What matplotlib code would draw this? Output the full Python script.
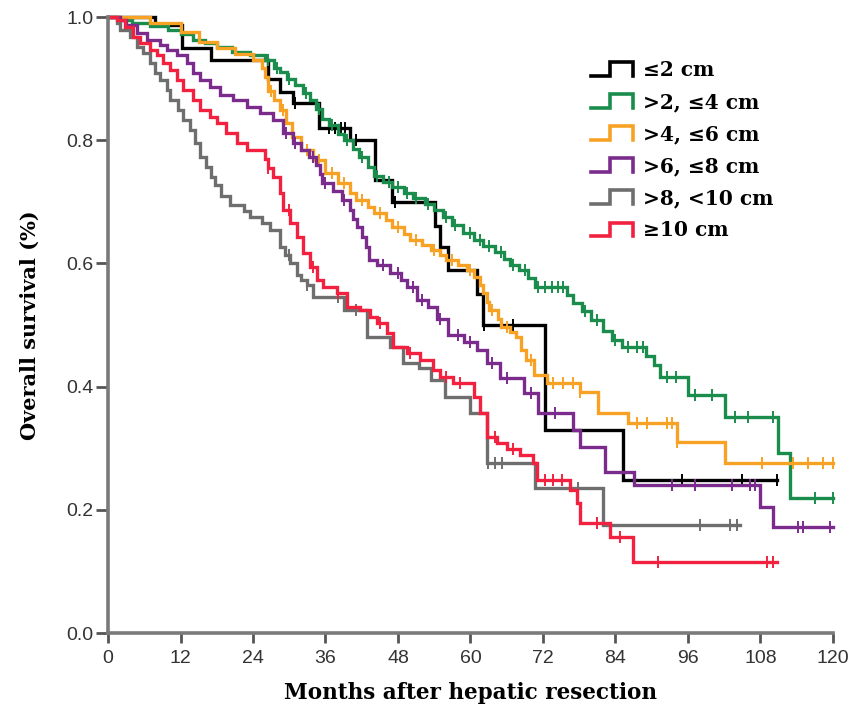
import numpy as np
import matplotlib
matplotlib.use("Agg")
import matplotlib.pyplot as plt
from matplotlib.lines import Line2D
from matplotlib.legend_handler import HandlerBase

# ---------------- data ----------------
labels = ["≤2 cm", ">2, ≤4 cm", ">4, ≤6 cm", ">6, ≤8 cm", ">8, <10 cm", "≥10 cm"]
colors = ["#000000", "#1a8c4c", "#f7a224", "#7a2b8c", "#6e6e6e", "#f2213f"]

black_t = [7.8, 12.2, 17, 26.5, 28.5, 30.6, 35, 40, 44.2, 47, 54.2, 55.0, 56.2, 61, 62, 72.4, 85.3]
black_s = [0.987, 0.95, 0.93, 0.90, 0.878, 0.86, 0.82, 0.80, 0.735, 0.70, 0.66, 0.627, 0.59, 0.55, 0.50, 0.33, 0.248]
black_end = 110.8
black_c = [31, 36.5, 37.5, 38.5, 39.3, 41, 47.5, 55, 62.3, 67, 95, 105, 110.8]

green_t = [2, 4, 7, 10, 12, 14, 16, 18, 20.5, 23.5, 26, 27.5, 28.5, 29.6, 31, 32.3, 33.5, 34.5, 35.5,
           36.5, 38, 39, 40.5, 41.5, 43, 44, 45.5, 47, 49, 50.5, 52.5, 54, 55.5, 57, 58.8, 60.5, 62,
           64, 65.5, 66.5, 68, 69.5, 70.7, 76, 77, 78.5, 80, 82, 83.5, 85, 89, 90.3, 91.4, 96, 102.2,
           110.9, 112.9]
green_s = [0.995, 0.99, 0.985, 0.979, 0.972, 0.963, 0.957, 0.951, 0.943, 0.938, 0.93, 0.918, 0.91,
           0.90, 0.89, 0.877, 0.865, 0.85, 0.835, 0.825, 0.81, 0.80, 0.785, 0.773, 0.757, 0.742,
           0.732, 0.724, 0.715, 0.706, 0.697, 0.686, 0.675, 0.662, 0.649, 0.638, 0.628, 0.619, 0.607,
           0.597, 0.589, 0.577, 0.562, 0.548, 0.536, 0.522, 0.508, 0.49, 0.476, 0.464, 0.45, 0.435,
           0.416, 0.386, 0.351, 0.292, 0.219]
green_end = 120
green_c = [26.5, 28, 30, 32.8, 35, 37, 39.5, 42, 44.5, 46.5, 48, 49.5, 51, 53, 56, 57.5, 60, 61.5, 63,
           65, 67, 69, 71.2, 72.4, 73.5, 74.5, 75.3, 79, 81, 84, 86, 87.5, 88.5, 92.5, 94, 97.2, 100,
           103.8, 106, 110, 117, 120]

orange_t = [7, 12, 15, 18, 21, 24, 25.5, 26, 26.5, 27.5, 28.5, 29.5, 30.5, 32, 34, 36, 38, 40, 41, 43,
            44, 46, 47, 49, 50, 52, 53.5, 55, 56, 58, 59.5, 60.5, 61.5, 62, 62.7, 63, 64.5, 65, 66.5,
            67.5, 68.3, 69.2, 70.5, 72.7, 78.1, 81.1, 86, 94.2, 102.2]
orange_s = [0.99, 0.975, 0.96, 0.95, 0.94, 0.93, 0.917, 0.903, 0.88, 0.865, 0.849, 0.828, 0.805, 0.784,
            0.768, 0.747, 0.73, 0.715, 0.703, 0.692, 0.682, 0.67, 0.659, 0.648, 0.638, 0.63, 0.622,
            0.614, 0.606, 0.597, 0.589, 0.578, 0.565, 0.552, 0.538, 0.524, 0.51, 0.497, 0.488, 0.481,
            0.46, 0.443, 0.419, 0.406, 0.391, 0.357, 0.341, 0.31, 0.276]
orange_end = 120
orange_c = [27, 29, 33, 35, 37, 39, 42, 45, 48, 51, 54, 57, 60, 63.5, 66, 70, 73.7, 75.3, 77, 78.1,
            87.6, 89.2, 92.5, 93.4, 94.2, 108.3, 113.4, 115.9, 118.4, 120]

purple_t = [2, 3, 4.8, 6.5, 8.6, 9.8, 11.4, 13.1, 14.1, 15.2, 16.9, 18.5, 20.7, 23, 25.2, 27.3, 29,
            30.6, 32, 33.3, 34.5, 35.1, 35.5, 37.2, 38.8, 40, 40.5, 41.2, 42, 42.7, 43.2, 44.5, 46.7,
            48.5, 49.5, 51.2, 53, 54.5, 56.2, 59, 61, 62.8, 64.9, 68.9, 71.1, 77, 78.1, 82.3, 87,
            108, 110]
purple_s = [0.995, 0.987, 0.974, 0.963, 0.955, 0.946, 0.938, 0.925, 0.909, 0.898, 0.886, 0.873, 0.865,
            0.854, 0.844, 0.833, 0.812, 0.795, 0.784, 0.773, 0.76, 0.745, 0.73, 0.718, 0.703, 0.687,
            0.672, 0.659, 0.643, 0.627, 0.606, 0.597, 0.584, 0.573, 0.562, 0.541, 0.53, 0.51, 0.484,
            0.472, 0.459, 0.438, 0.414, 0.39, 0.357, 0.33, 0.302, 0.261, 0.24, 0.205, 0.172]
purple_end = 120
purple_c = [29.5, 31, 34, 36, 39, 45.5, 48, 50.5, 52, 55, 58, 60, 63.5, 66, 70, 74, 93.4, 97.2, 103.3,
            106.3, 107.1, 114.2, 115, 119.5]

gray_t = [1.5, 2, 3.7, 4.8, 5.8, 7, 7.8, 8.6, 9.8, 10.3, 11.6, 12.4, 13.6, 14.4, 15.2, 16.2, 17, 17.7,
          18.7, 20.2, 22.5, 23.5, 25.5, 26.8, 28.5, 29.3, 30.2, 31.3, 32, 33, 33.9, 39, 42.9, 46.7,
          48.8, 51.5, 53.5, 55.8, 60, 62.7, 70.7, 82]
gray_s = [0.99, 0.979, 0.968, 0.951, 0.941, 0.925, 0.909, 0.898, 0.881, 0.865, 0.849, 0.833, 0.817,
          0.795, 0.773, 0.757, 0.74, 0.727, 0.71, 0.695, 0.685, 0.675, 0.665, 0.654, 0.627, 0.614,
          0.60, 0.581, 0.573, 0.565, 0.545, 0.525, 0.48, 0.464, 0.438, 0.43, 0.411, 0.383, 0.357,
          0.276, 0.235, 0.175]
gray_end = 104.6
gray_c = [30, 33, 38, 41, 62.9, 64, 65.2, 77.8, 98, 103, 104.1]

red_t = [1.5, 2.8, 4.1, 5.3, 7, 8.1, 9.1, 10.3, 11.4, 12.4, 14.1, 15.2, 16.9, 18, 19.6, 21.4, 23, 26,
         26.5, 27.3, 28.5, 29, 30.2, 31.3, 32.3, 33.4, 34.6, 35.6, 37.9, 39.6, 41.7, 43.4, 44.5, 46.2,
         47.2, 49.5, 51.7, 53.8, 55, 57.1, 60.5, 61.6, 62.7, 64.4, 66.1, 68.2, 70.4, 71, 76.5, 77.6,
         78.1, 83.1, 86.9]
red_s = [0.995, 0.984, 0.968, 0.958, 0.946, 0.938, 0.925, 0.914, 0.898, 0.881, 0.865, 0.849, 0.838,
         0.828, 0.812, 0.795, 0.784, 0.77, 0.755, 0.74, 0.714, 0.687, 0.666, 0.643, 0.617, 0.594, 0.573,
         0.562, 0.552, 0.529, 0.524, 0.513, 0.503, 0.487, 0.464, 0.455, 0.443, 0.427, 0.416, 0.406,
         0.383, 0.357, 0.318, 0.308, 0.298, 0.289, 0.276, 0.248, 0.232, 0.211, 0.179, 0.156, 0.115]
red_end = 110.8
red_c = [26.5, 30, 34, 38, 45, 50, 56, 58.3, 64, 67, 72.4, 73.7, 75.2, 81, 84.8, 91, 109.1, 110]

x_ticks = [0, 12, 24, 36, 48, 60, 72, 84, 96, 108, 120]
y_ticks = [0.0, 0.2, 0.4, 0.6, 0.8, 1.0]

series = [
    (black_t, black_s, black_end, black_c),
    (green_t, green_s, green_end, green_c),
    (orange_t, orange_s, orange_end, orange_c),
    (purple_t, purple_s, purple_end, purple_c),
    (gray_t, gray_s, gray_end, gray_c),
    (red_t, red_s, red_end, red_c),
]

# ---------------- figure ----------------
fig = plt.figure(figsize=(8.62, 7.09), dpi=100)
ax = fig.add_axes([108 / 862, 1 - 633 / 709, (833 - 108) / 862, (633 - 17) / 709])

for (t, s, end, cens), col in zip(series, colors):
    tt = np.array([0.0] + list(t) + [end])
    ss = np.array([1.0] + list(s) + [s[-1]])
    ax.step(tt, ss, where="post", color=col, lw=2.4, clip_on=False, solid_joinstyle="miter")
    c = np.array(cens)
    idx = np.searchsorted(tt, c, side="right") - 1
    ax.plot(c, ss[idx], ls="none", marker="|", ms=8, mew=1.4, color=col, clip_on=False)

ax.set_xlim(0, 120)
ax.set_ylim(0, 1.0)
ax.set_xticks(x_ticks)
ax.set_xticklabels([str(v) for v in x_ticks])
ax.set_yticks(y_ticks)
ax.set_yticklabels([f"{v:.1f}" for v in y_ticks])

for side in ["top", "right"]:
    ax.spines[side].set_visible(False)
for side in ["left", "bottom"]:
    ax.spines[side].set_color("#7a7a7a")
    ax.spines[side].set_linewidth(2.6)
ax.tick_params(axis="both", direction="out", width=2, color="#555555",
               labelsize=14, labelcolor="#333333")
ax.tick_params(axis="x", length=7, pad=5)
ax.tick_params(axis="y", length=8.5, pad=2)
for lab in ax.get_xticklabels() + ax.get_yticklabels():
    lab.set_family(["Liberation Sans", "DejaVu Sans"])

serif = ["DejaVu Serif"]
ax.set_xlabel("Months after hepatic resection", family=serif, fontweight="bold",
              fontsize=15.5, labelpad=11)
ax.set_ylabel("Overall survival (%)", family=serif, fontweight="bold", fontsize=15, labelpad=19)


class StepHandler(HandlerBase):
    def create_artists(self, legend, orig_handle, xdescent, ydescent, width, height, fontsize, trans):
        x0, y0 = -xdescent, -ydescent
        lo = y0 + 0.05 * height
        hi = y0 + 0.95 * height
        xs = [x0, x0 + 0.45 * width, x0 + 0.45 * width, x0 + width, x0 + width]
        ys = [lo, lo, hi, hi, lo]
        ln = Line2D(xs, ys, color=orig_handle.get_color(), lw=2.6, transform=trans,
                    solid_joinstyle="miter")
        return [ln]


handles = [Line2D([], [], color=c) for c in colors]
leg = ax.legend(handles, labels, handler_map={Line2D: StepHandler()},
                loc="upper left", bbox_to_anchor=(581 / 862, 1 - 50 / 709),
                bbox_transform=fig.transFigure, frameon=False, borderpad=0,
                handlelength=2.1, handleheight=0.8, handletextpad=0.5, labelspacing=0.6,
                prop={"family": serif, "weight": "bold", "size": 14.5})

fig.savefig("out.png", dpi=100)
